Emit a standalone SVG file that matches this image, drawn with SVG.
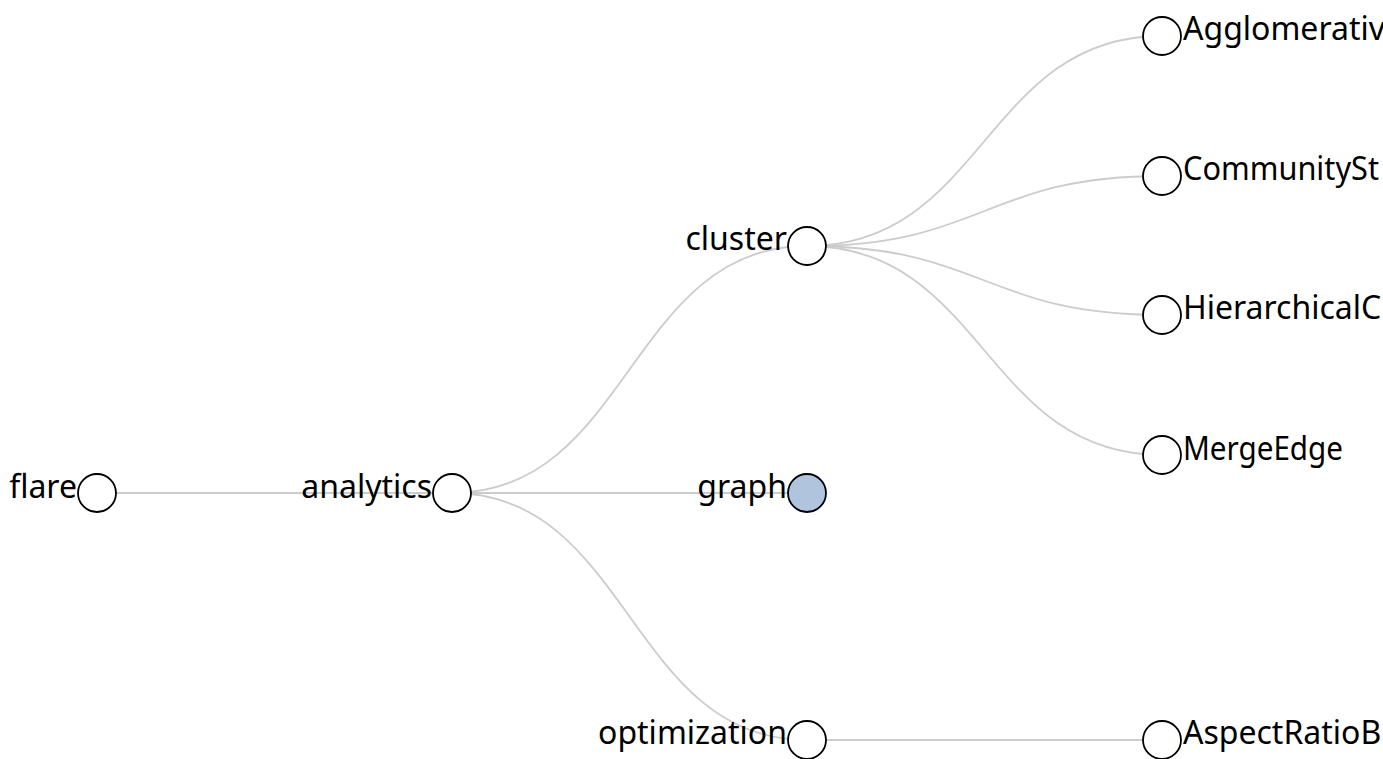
<svg xmlns="http://www.w3.org/2000/svg" width="1383" height="759" viewBox="0 0 1383 759">
  <style>
    .link { fill: none; stroke: #cccccc; stroke-width: 1.8; }
    .node circle { fill: #ffffff; stroke: #000000; stroke-width: 1.8; }
    .node.collapsed circle { fill: #b0c4de; }
    .node text { font-family: "Noto Sans", "Open Sans", sans-serif; font-size: 32px; fill: #000000; }
    .node.inner text { text-anchor: end; }
    .node.leaf text { text-anchor: start; }
  </style>
  <rect width="1383" height="759" fill="#ffffff"/>
  <!-- links: horizontal cubic curves from parent to child -->
  <g id="links">
    <path class="link" d="M97,493 C274.5,493 274.5,493 452,493"/>
    <path class="link" d="M452,493 C629.5,493 629.5,246 807,246"/>
    <path class="link" d="M452,493 C629.5,493 629.5,493 807,493"/>
    <path class="link" d="M452,493 C629.5,493 629.5,740 807,740"/>
    <path class="link" d="M807,246 C984.5,246 984.5,36 1162,36"/>
    <path class="link" d="M807,246 C984.5,246 984.5,176 1162,176"/>
    <path class="link" d="M807,246 C984.5,246 984.5,315 1162,315"/>
    <path class="link" d="M807,246 C984.5,246 984.5,455 1162,455"/>
    <path class="link" d="M807,740 C984.5,740 984.5,740 1162,740"/>
  </g>
  <g id="node-flare" class="node inner" transform="translate(97,493)">
    <circle r="19"/>
    <text x="-20" y="5">flare</text>
  </g>
  <g id="node-analytics" class="node inner" transform="translate(452,493)">
    <circle r="19"/>
    <text x="-20" y="5">analytics</text>
  </g>
  <g id="node-cluster" class="node inner" transform="translate(807,246)">
    <circle r="19"/>
    <text x="-20" y="4">cluster</text>
  </g>
  <g id="node-graph" class="node inner collapsed" transform="translate(807,493)">
    <circle r="19"/>
    <text x="-20" y="5">graph</text>
  </g>
  <g id="node-optimization" class="node inner" transform="translate(807,740)">
    <circle r="19"/>
    <text x="-20" y="4">optimization</text>
  </g>
  <g id="node-agglomerative" class="node leaf" transform="translate(1162,36)">
    <circle r="19"/>
    <text x="21" y="4">Agglomerativ</text>
  </g>
  <g id="node-communitystructure" class="node leaf" transform="translate(1162,176)">
    <circle r="19"/>
    <text x="21" y="4" textLength="196" lengthAdjust="spacingAndGlyphs">CommunitySt</text>
  </g>
  <g id="node-hierarchicalcluster" class="node leaf" transform="translate(1162,315)">
    <circle r="19"/>
    <text x="21" y="4">HierarchicalC</text>
  </g>
  <g id="node-mergeedge" class="node leaf" transform="translate(1162,455)">
    <circle r="19"/>
    <text x="21" y="5" textLength="160" lengthAdjust="spacingAndGlyphs">MergeEdge</text>
  </g>
  <g id="node-aspectratiobanker" class="node leaf" transform="translate(1162,740)">
    <circle r="19"/>
    <text x="21" y="4">AspectRatioB</text>
  </g>
</svg>
